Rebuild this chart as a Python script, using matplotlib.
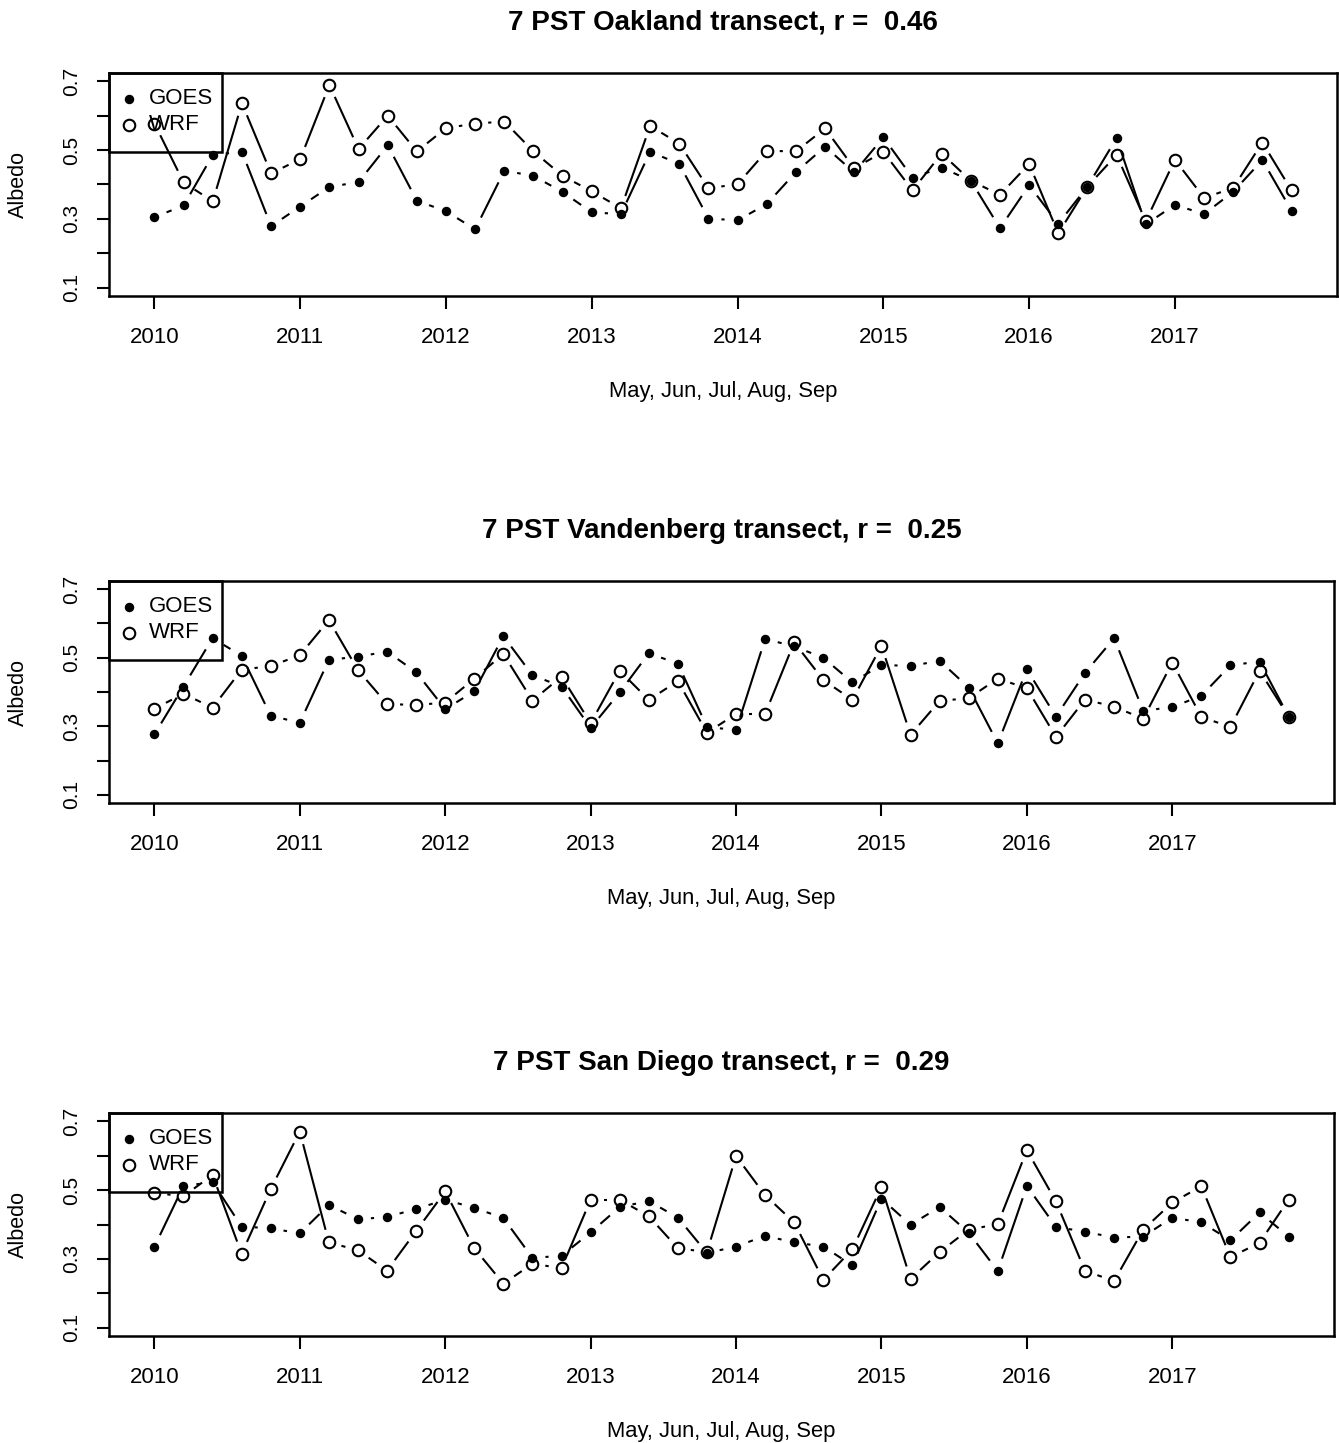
import numpy as np
import matplotlib
matplotlib.use("Agg")
import matplotlib.pyplot as plt
from matplotlib.patches import Rectangle
from matplotlib.collections import LineCollection

# ---- data ----
years = [2010, 2011, 2012, 2013, 2014, 2015, 2016, 2017]
months = ["May", "Jun", "Jul", "Aug", "Sep"]
month_offsets = [0.0, 0.2, 0.4, 0.6, 0.8]

titles = ["7 PST Oakland transect, r =  0.46",
          "7 PST Vandenberg transect, r =  0.25",
          "7 PST San Diego transect, r =  0.29"]

goes_oakland = [0.305, 0.339, 0.486, 0.495, 0.279, 0.336, 0.393, 0.407, 0.514, 0.353,
                0.322, 0.270, 0.440, 0.425, 0.378, 0.319, 0.314, 0.495, 0.460, 0.301,
                0.296, 0.343, 0.436, 0.510, 0.435, 0.537, 0.420, 0.449, 0.411, 0.273,
                0.398, 0.286, 0.394, 0.535, 0.284, 0.341, 0.314, 0.379, 0.471, 0.324]
wrf_oakland = [0.577, 0.406, 0.351, 0.636, 0.432, 0.474, 0.689, 0.503, 0.600, 0.496,
               0.564, 0.577, 0.583, 0.496, 0.425, 0.380, 0.331, 0.570, 0.519, 0.389,
               0.401, 0.498, 0.496, 0.563, 0.447, 0.495, 0.383, 0.490, 0.411, 0.370,
               0.460, 0.258, 0.394, 0.486, 0.293, 0.472, 0.361, 0.390, 0.522, 0.383]
goes_vandenberg = [0.276, 0.416, 0.557, 0.506, 0.331, 0.310, 0.494, 0.503, 0.518, 0.458,
                   0.350, 0.402, 0.563, 0.449, 0.416, 0.295, 0.399, 0.513, 0.483, 0.298,
                   0.289, 0.555, 0.533, 0.500, 0.428, 0.479, 0.476, 0.491, 0.413, 0.250,
                   0.466, 0.328, 0.456, 0.557, 0.345, 0.356, 0.389, 0.478, 0.489, 0.328]
wrf_vandenberg = [0.351, 0.395, 0.354, 0.465, 0.476, 0.507, 0.610, 0.464, 0.365, 0.362,
                  0.369, 0.439, 0.511, 0.375, 0.445, 0.309, 0.462, 0.377, 0.432, 0.281,
                  0.336, 0.336, 0.545, 0.435, 0.377, 0.535, 0.275, 0.374, 0.382, 0.439,
                  0.411, 0.269, 0.378, 0.357, 0.322, 0.486, 0.327, 0.298, 0.462, 0.328]
goes_sandiego = [0.335, 0.512, 0.523, 0.394, 0.389, 0.374, 0.457, 0.415, 0.422, 0.445,
                 0.472, 0.448, 0.419, 0.303, 0.309, 0.377, 0.451, 0.468, 0.420, 0.317,
                 0.336, 0.367, 0.348, 0.336, 0.281, 0.475, 0.399, 0.451, 0.376, 0.265,
                 0.512, 0.393, 0.379, 0.362, 0.365, 0.420, 0.406, 0.354, 0.435, 0.365]
wrf_sandiego = [0.492, 0.482, 0.544, 0.315, 0.503, 0.670, 0.348, 0.325, 0.266, 0.381,
                0.496, 0.331, 0.228, 0.286, 0.273, 0.472, 0.472, 0.424, 0.331, 0.320,
                0.599, 0.485, 0.406, 0.239, 0.328, 0.509, 0.242, 0.320, 0.385, 0.401,
                0.616, 0.467, 0.265, 0.236, 0.385, 0.464, 0.511, 0.305, 0.347, 0.472]

goes_series = [goes_oakland, goes_vandenberg, goes_sandiego]
wrf_series = [wrf_oakland, wrf_vandenberg, wrf_sandiego]
legend_labels = ["GOES", "WRF"]

ytick_vals = [0.1, 0.2, 0.3, 0.4, 0.5, 0.6, 0.7]
ytick_labels = ["0.1", "", "0.3", "", "0.5", "", "0.7"]
xlabel = "May, Jun, Jul, Aug, Sep"
ylabel = "Albedo"

# x positions: year + fraction for each month
x = np.array([y + m for y in years for m in month_offsets])

# ---- figure ----
W, H = 1339, 1443
fig = plt.figure(figsize=(W / 100, H / 100), dpi=100)

FONT = ["Liberation Sans", "DejaVu Sans"]

# axes boxes in pixels: (left, top, right, bottom)
boxes = [(109, 73, 1337, 296), (109, 581, 1334, 803), (109, 1113, 1334, 1336)]

GAP = 13.0  # pixel gap around points (R type="b")


def gapped_line(ax, xs, ys, lw=1.5):
    pts = ax.transData.transform(np.column_stack([xs, ys]))
    inv = ax.transData.inverted()
    segs = []
    for k in range(len(pts) - 1):
        p0, p1 = pts[k], pts[k + 1]
        d = p1 - p0
        L = np.hypot(*d)
        if L <= 2 * GAP:
            continue
        u = d / L
        segs.append(inv.transform(np.vstack([p0 + u * GAP, p1 - u * GAP])))
    ax.add_collection(LineCollection(segs, colors="black", linewidths=lw,
                                     capstyle="butt", zorder=2))


for i in range(3):
    l, t, r, b = boxes[i]
    aw, ah = r - l, b - t
    ax = fig.add_axes([l / W, 1 - b / H, aw / W, ah / H])
    ax.set_xlim(2009.688, 2018.112)
    ax.set_ylim(0.076, 0.724)
    for s in ax.spines.values():
        s.set_linewidth(1.8)
    ax.set_xticks(years)
    ax.set_xticklabels([str(y) for y in years], family=FONT, fontsize=16)
    ax.set_yticks(ytick_vals)
    ax.set_yticklabels(ytick_labels, family=FONT, fontsize=15, rotation=90, va="center")
    ax.tick_params(axis="both", length=9, width=1.5, direction="out")
    ax.tick_params(axis="x", pad=13)
    ax.tick_params(axis="y", pad=11)
    ax.set_xlabel(xlabel, family=FONT, fontsize=15.8, labelpad=24)
    ax.set_ylabel(ylabel, family=FONT, fontsize=15.5, labelpad=24)
    ax.set_title(titles[i], fontsize=20, fontweight="bold", family=FONT, pad=31)

    g = goes_series[i]
    w = wrf_series[i]
    gapped_line(ax, x, g)
    gapped_line(ax, x, w)
    ax.plot(x, g, linestyle="none", marker="o", markersize=5.8, markerfacecolor="black",
            markeredgecolor="black", zorder=3)
    ax.plot(x, w, linestyle="none", marker="o", markersize=8.3, markerfacecolor="none",
            markeredgecolor="black", markeredgewidth=1.5, zorder=3)

    # R-style legend box at top-left
    box_w, box_h = 113, 79
    ax.add_patch(Rectangle((0, 1 - box_h / ah), box_w / aw, box_h / ah,
                           transform=ax.transAxes, facecolor="none",
                           edgecolor="black", linewidth=1.8, zorder=4, clip_on=False))
    for j, lab in enumerate(legend_labels):
        yy = 1 - (26 + 26 * j) / ah
        if j == 0:
            ax.plot([20 / aw], [yy], transform=ax.transAxes, linestyle="none", marker="o",
                    markersize=5.8, markerfacecolor="black", markeredgecolor="black",
                    zorder=4, clip_on=False)
        else:
            ax.plot([20 / aw], [yy], transform=ax.transAxes, linestyle="none", marker="o",
                    markersize=8.3, markerfacecolor="none", markeredgecolor="black",
                    markeredgewidth=1.5, zorder=4, clip_on=False)
        ax.text(40 / aw, yy, lab, transform=ax.transAxes, family=FONT, fontsize=16,
                va="center", ha="left", zorder=4)

fig.savefig("out.png", dpi=100)
